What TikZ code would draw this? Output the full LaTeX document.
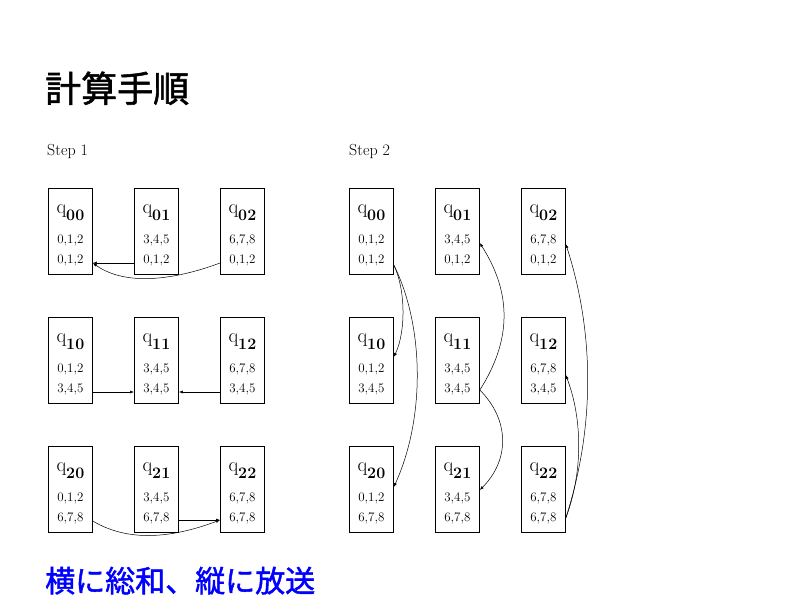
\documentclass[tikz,border=0pt]{standalone}
\usepackage{fontspec}
\newfontfamily\cjk{Noto Sans CJK JP}
\newfontfamily\cjkmed{Noto Sans CJK JP}[FakeBold=1.5]
\usetikzlibrary{arrows.meta,calc}
\tikzset{
  qcell/.style={draw, line width=0.8pt, minimum width=44pt, minimum height=86pt, anchor=north west, inner sep=0pt},
  qlab/.style={anchor=base, inner sep=0pt},
  nums/.style={anchor=base, inner sep=0pt, font=\fontsize{13}{13}\selectfont},
  arr/.style={line width=0.5pt, -{Latex[length=4pt,width=3pt]}},
  steplab/.style={anchor=base west, inner sep=0pt, font=\fontsize{16}{16}\selectfont}
}
\newcommand\mkcell[6]{%
  \node[qcell] (#1) at (#2,#3) {};
  \node[qlab] (#1q) at ($(#1.north)+(0,25)$) {{\fontsize{20}{20}\selectfont q}\raisebox{-7pt}{\fontsize{16}{16}\selectfont\bfseries #4}};
  \node[nums] (#1a) at ($(#1.north)+(0,55)$) {#5};
  \node[nums] (#1b) at ($(#1.north)+(0,75)$) {#6};
}
\begin{document}
\begin{tikzpicture}[x=1pt,y=-1pt]
\useasboundingbox (0,0) rectangle (800,600);
\node[anchor=base west, inner sep=0pt] (title) at (45,102) {\cjkmed\fontsize{36}{36}\selectfont 計算手順};
\node[steplab] (s1) at (47,155) {Step 1};
\node[steplab] (s2) at (349,155) {Step 2};
% Step 1
\mkcell{a00}{48}{188}{00}{0,1,2}{0,1,2}
\mkcell{a01}{134}{188}{01}{3,4,5}{0,1,2}
\mkcell{a02}{220}{188}{02}{6,7,8}{0,1,2}
\mkcell{a10}{48}{317}{10}{0,1,2}{3,4,5}
\mkcell{a11}{134}{317}{11}{3,4,5}{3,4,5}
\mkcell{a12}{220}{317}{12}{6,7,8}{3,4,5}
\mkcell{a20}{48}{446}{20}{0,1,2}{6,7,8}
\mkcell{a21}{134}{446}{21}{3,4,5}{6,7,8}
\mkcell{a22}{220}{446}{22}{6,7,8}{6,7,8}
% Step 2
\mkcell{b00}{349}{188}{00}{0,1,2}{0,1,2}
\mkcell{b01}{435}{188}{01}{3,4,5}{0,1,2}
\mkcell{b02}{521}{188}{02}{6,7,8}{0,1,2}
\mkcell{b10}{349}{317}{10}{0,1,2}{3,4,5}
\mkcell{b11}{435}{317}{11}{3,4,5}{3,4,5}
\mkcell{b12}{521}{317}{12}{6,7,8}{3,4,5}
\mkcell{b20}{349}{446}{20}{0,1,2}{6,7,8}
\mkcell{b21}{435}{446}{21}{3,4,5}{6,7,8}
\mkcell{b22}{521}{446}{22}{6,7,8}{6,7,8}
% Step 1 arrows
\draw[arr] ($(a01.north west)+(0,75)$) -- ($(a00.north east)+(0,75)$);
\draw[arr] ($(a02.north west)+(0,75)$) .. controls +(-40,15) and +(35,25) .. ($(a00.north east)+(0,75)$);
\draw[arr] ($(a10.north east)+(0,75)$) -- ($(a11.north west)+(0,75)$);
\draw[arr] ($(a12.north west)+(0,75)$) -- ($(a11.north east)+(0,75)$);
\draw[arr] ($(a21.north east)+(0,74)$) -- ($(a22.north west)+(0,74)$);
\draw[arr] ($(a20.north east)+(0,75)$) .. controls +(40,24) and +(-40,15) .. ($(a22.north west)+(0,74)$);
% Step 2 arrows
\draw[arr] ($(b00.north east)+(0,77)$) .. controls +(12,25) and +(12,-25) .. ($(b10.north east)+(0,40)$);
\draw[arr] ($(b00.north east)+(0,77)$) .. controls +(30,60) and +(32,-70) .. ($(b20.north east)+(0,41)$);
\draw[arr] ($(b11.north east)+(0,73)$) .. controls +(32,-50) and +(32,50) .. ($(b01.north east)+(0,55)$);
\draw[arr] ($(b11.north east)+(0,73)$) .. controls +(30,30) and +(30,-30) .. ($(b21.north east)+(0,44)$);
\draw[arr] ($(b22.north east)+(0,72)$) .. controls +(17,-45) and +(17,45) .. ($(b12.north east)+(0,58)$);
\draw[arr] ($(b22.north east)+(0,72)$) .. controls +(29,-90) and +(29,90) .. ($(b02.north east)+(0,56)$);
\node[anchor=base west, inner sep=0pt, text=blue] (foot) at (45,592) {\cjkmed\fontsize{30}{30}\selectfont 横に総和、縦に放送};
\end{tikzpicture}
\end{document}
